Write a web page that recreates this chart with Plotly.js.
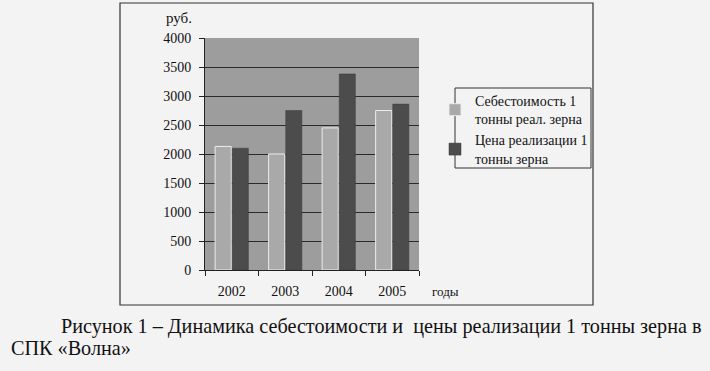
<!DOCTYPE html>
<html><head><meta charset="utf-8">
<script src="https://cdn.plot.ly/plotly-3.0.1.min.js"></script>
<style>html,body{margin:0;padding:0;background:#f3f3f3;}#c{width:710px;height:371px;}</style>
</head><body><div id="c"></div>
<script>
const years = ['2002','2003','2004','2005'];
const costValues = [2130, 2000, 2450, 2750];
const priceValues = [2100, 2750, 3380, 2860];
const seriesNames = ['Себестоимость 1<br>тонны реал. зерна', 'Цена реализации 1<br>тонны зерна'];
const yTicks = [0,500,1000,1500,2000,2500,3000,3500,4000];

const L=205, R=419, T=38, B=270;
const px = x => (x-L)/(R-L);
const py = y => (B-y)/(B-T);
const serif = 'Liberation Serif';

const traces = [
  {type:'bar', x:years, y:costValues, name:seriesNames[0],
   marker:{color:'#a9a9a9', line:{color:'#ececec', width:1}}},
  {type:'bar', x:years, y:priceValues, name:seriesNames[1],
   marker:{color:'#4c4c4c', line:{color:'#3a3a3a', width:0.5}}}
];

const layout = {
  width:710, height:371,
  margin:{l:L, r:710-R, t:T, b:371-B, pad:0},
  paper_bgcolor:'#f3f3f3', plot_bgcolor:'#9d9d9d',
  barmode:'group', bargap:0.36, bargroupgap:0.06,
  font:{family:serif, color:'#111', size:14},
  showlegend:true,
  legend:{x:px(435), y:py(85), xanchor:'left', yanchor:'top',
    bgcolor:'rgba(0,0,0,0)', borderwidth:0,
    font:{family:serif, size:14, color:'#111'}, tracegroupgap:2, itemwidth:30},
  xaxis:{type:'category', tickson:'boundaries', ticks:'outside', ticklen:5, tickcolor:'#222',
    showline:true, linecolor:'#222', linewidth:1, showgrid:false, ticklabelstandoff:8,
    tickfont:{family:serif, size:14}, fixedrange:true},
  yaxis:{range:[0,4000], tickvals:yTicks, ticks:'outside', ticklen:5, tickcolor:'#222',
    showline:true, linecolor:'#222', linewidth:1, showgrid:true, gridcolor:'#2a2a2a', gridwidth:1,
    ticklabelstandoff:5,
    zeroline:false, tickfont:{family:serif, size:14}, fixedrange:true},
  shapes:[
    {type:'rect', xref:'paper', yref:'paper', x0:px(120), x1:px(593), y0:py(305), y1:py(3),
     line:{color:'#333', width:1.2}, fillcolor:'rgba(0,0,0,0)', layer:'below'},
    {type:'rect', xref:'paper', yref:'paper', x0:px(455), x1:px(591), y0:py(168), y1:py(88),
     line:{color:'#333', width:1}, fillcolor:'rgba(0,0,0,0)', layer:'below'}
  ],
  annotations:[
    {xref:'paper', yref:'paper', x:px(194), y:py(18), xanchor:'right', yanchor:'middle',
     text:'руб.', showarrow:false, font:{family:serif, size:15}},
    {xref:'paper', yref:'paper', x:px(430), y:py(291), xanchor:'left', yanchor:'middle',
     text:'годы', showarrow:false, font:{family:serif, size:13}},
    {xref:'paper', yref:'paper', x:px(59), y:py(326), xanchor:'left', yanchor:'middle',
     text:'Рисунок 1 – Динамика себестоимости и  цены реализации 1 тонны зерна в', showarrow:false,
     font:{family:serif, size:20.2, color:'#111'}},
    {xref:'paper', yref:'paper', x:px(9), y:py(348), xanchor:'left', yanchor:'middle',
     text:'СПК «Волна»', showarrow:false, font:{family:serif, size:20.2, color:'#111'}}
  ]
};
Plotly.newPlot('c', traces, layout, {displayModeBar:false, staticPlot:true});
</script></body></html>
